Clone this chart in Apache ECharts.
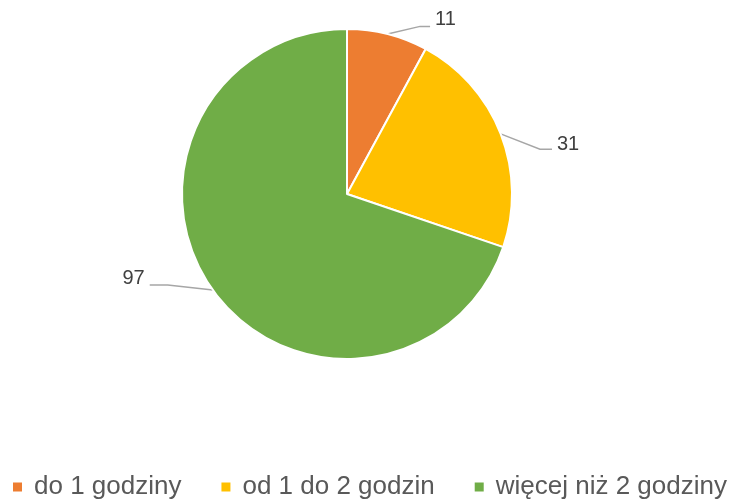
<!DOCTYPE html>
<html><head><meta charset="utf-8">
<script src="https://cdn.jsdelivr.net/npm/echarts@6/dist/echarts.min.js"></script>
<style>html,body{margin:0;padding:0;background:#fff}#c{width:734px;height:501px}</style>
</head><body><div id="c"></div>
<script>
const categories = ['do 1 godziny', 'od 1 do 2 godzin', 'więcej niż 2 godziny'];
const values = [11, 31, 97];
const colors = ['#ED7D31', '#FFC000', '#70AD47'];
const lineLen = [10, 10, 10];
const lineLen2 = [40, 42, 55];
const labelDy = [-5, 14, -17];
const lineDy = [2, 19, -11];
const tailLen = [10, 12, 18];

const chart = echarts.init(document.getElementById('c'));
chart.setOption({
  animation: false,
  color: colors,
  legend: {
    top: 469,
    left: 6,
    width: 728,
    itemWidth: 11,
    itemHeight: 11,
    itemGap: 38,
    icon: 'rect',
    textStyle: { fontFamily: 'Liberation Sans', fontSize: 26, color: '#595959', padding: [0, 0, 0, 6] },
    data: categories
  },
  series: [{
    type: 'pie',
    center: [347, 194],
    radius: [0, 165],
    startAngle: 90,
    clockwise: true,
    itemStyle: { borderColor: '#fff', borderWidth: 2 },
    label: {
      show: true,
      formatter: '{c}',
      fontFamily: 'Liberation Sans',
      fontSize: 20,
      color: '#404040'
    },
    labelLine: { show: true, lineStyle: { color: '#a6a6a6', width: 1.5 } },
    labelLayout: function (p) {
      const i = p.dataIndex;
      const pts = p.labelLinePoints;
      const out = { dy: labelDy[i] };
      if (pts) {
        const sgn = Math.sign(pts[2][0] - pts[1][0]) || 1;
        const endY = pts[2][1] + lineDy[i];
        out.labelLinePoints = [
          pts[0],
          [pts[2][0] - sgn * tailLen[i], endY],
          [pts[2][0], endY]
        ];
      }
      return out;
    },
    data: categories.map((n, i) => ({
      name: n, value: values[i],
      labelLine: { length: lineLen[i], length2: lineLen2[i] }
    }))
  }]
});
</script></body></html>
